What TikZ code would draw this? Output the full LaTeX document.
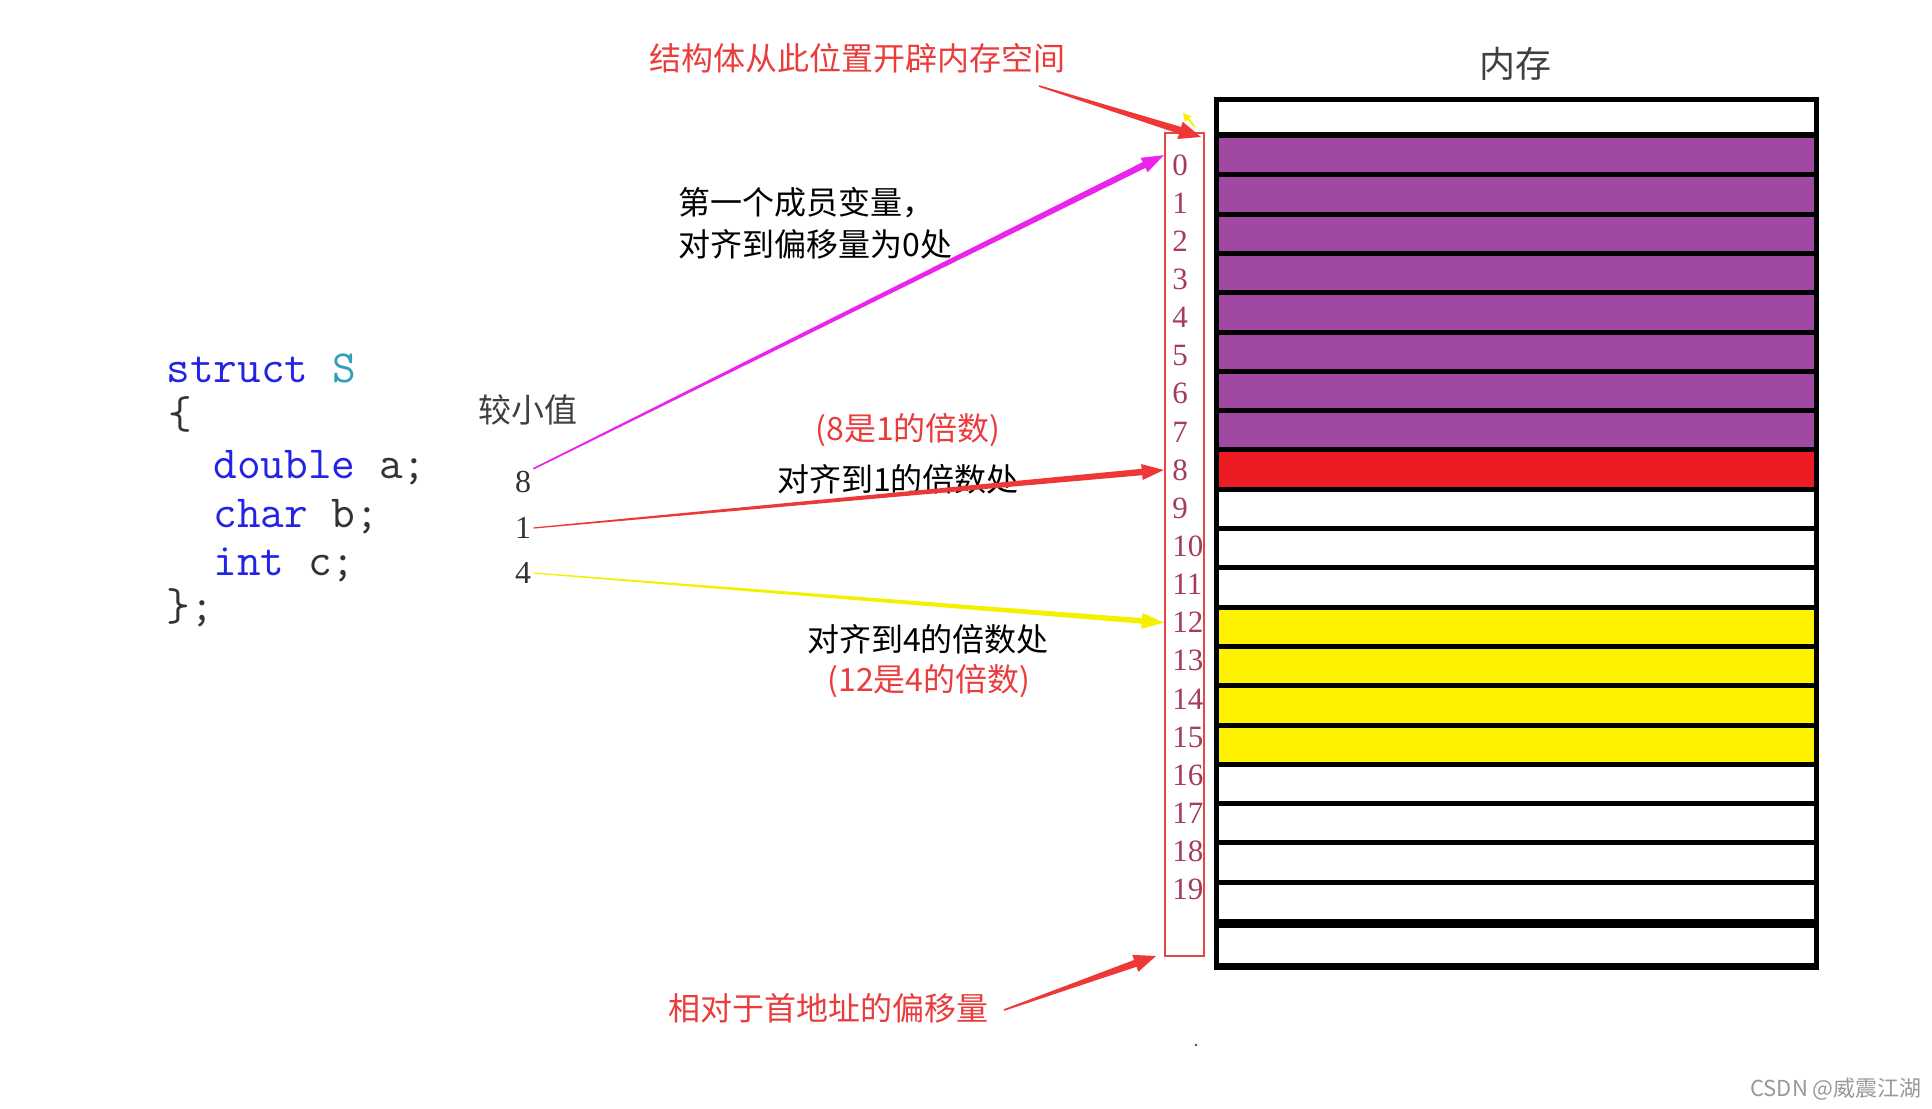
\documentclass[tikz,border=0pt]{standalone}
\usepackage{fontspec}
\setmainfont{Liberation Serif}
\newfontfamily\cjk{Noto Sans CJK SC}
\usetikzlibrary{calc, positioning}

\definecolor{cellpurple}{RGB}{160,72,162}
\definecolor{cellred}{RGB}{237,28,36}
\definecolor{cellyellow}{RGB}{255,242,0}
\definecolor{idxred}{RGB}{165,60,90}
\definecolor{boxred}{RGB}{230,70,70}
\definecolor{txtred}{RGB}{235,60,60}
\definecolor{arrmag}{RGB}{235,35,235}
\definecolor{arrred}{RGB}{238,55,55}
\definecolor{arryel}{RGB}{245,240,0}
\definecolor{kwblue}{RGB}{35,35,230}
\definecolor{typeteal}{RGB}{50,160,180}

% tapered arrow: colour, from, to, start half width, end half width, head length, head half width
\newcommand{\taperarrow}[7]{%
  \coordinate (hb) at ($(#3)!#6!(#2)$);
  \fill[#1] ($(#2)!#4!90:(#3)$) -- ($(hb)!#5!90:(#3)$) -- ($(hb)!#7!90:(#3)$) -- (#3)
    -- ($(hb)!#7!-90:(#3)$) -- ($(hb)!#5!-90:(#3)$) -- ($(#2)!#4!-90:(#3)$) -- cycle;
}

\begin{document}
\begin{tikzpicture}[x=0.5pt, y=-0.5pt,
  cell/.style={minimum width=297.5pt, minimum height=17.15pt, inner sep=0, outer sep=0},
  idx/.style={anchor=west, inner sep=0, text=idxred, font=\fontsize{15.5pt}{15.5pt}\selectfont},
  lbl/.style={inner sep=1pt, font=\cjk\fontsize{16pt}{20pt}\selectfont},
  code/.style={anchor=base west, inner sep=0, text=black!80, font=\ttfamily\fontsize{23pt}{23pt}\selectfont},
  num/.style={inner sep=1pt, text=black!80, font=\fontsize{16pt}{16pt}\selectfont}]
\fill[white] (0,0) rectangle (1932,1108);
\useasboundingbox (0,0) rectangle (1932,1108);

% code
\node[code] (cs) at (166,382) {\textcolor{kwblue}{struct} \textcolor{typeteal}{S}};
\node[code] (cbo) at (168,428) {\{};
\node[code] (cd) at (213,478) {\textcolor{kwblue}{double} a;};
\node[code] (cc) at (213,527) {\textcolor{kwblue}{char} b;};
\node[code] (ci) at (213,575) {\textcolor{kwblue}{int} c;};
\node[code] (cbc) at (166,620) {\};};

\node[lbl, text=black!75, font=\cjk\fontsize{16.5pt}{16.5pt}\selectfont] (minval) at (528,410) {较小值};
\node[num] (n8) at (523,482) {8};
\node[num] (n1) at (523,528) {1};
\node[num] (n4) at (523,573) {4};

% memory
\node[lbl, text=black!75, font=\cjk\fontsize{18pt}{18pt}\selectfont] (memlab) at (1515,64) {内存};
\fill[black] (1214,97) rectangle (1819,970);
\node[cell, fill=white, minimum height=15pt] (mtop) at (1516.5,117) {};
\node[cell, fill=cellpurple] (m0) at (1516.5,155.2) {};
\node[cell, fill=cellpurple] (m1) at (1516.5,194.5) {};
\node[cell, fill=cellpurple] (m2) at (1516.5,233.8) {};
\node[cell, fill=cellpurple] (m3) at (1516.5,273.1) {};
\node[cell, fill=cellpurple] (m4) at (1516.5,312.4) {};
\node[cell, fill=cellpurple] (m5) at (1516.5,351.7) {};
\node[cell, fill=cellpurple] (m6) at (1516.5,391.0) {};
\node[cell, fill=cellpurple] (m7) at (1516.5,430.3) {};
\node[cell, fill=cellred] (m8) at (1516.5,469.6) {};
\node[cell, fill=white] (m9) at (1516.5,508.9) {};
\node[cell, fill=white] (m10) at (1516.5,548.2) {};
\node[cell, fill=white] (m11) at (1516.5,587.5) {};
\node[cell, fill=cellyellow] (m12) at (1516.5,626.8) {};
\node[cell, fill=cellyellow] (m13) at (1516.5,666.1) {};
\node[cell, fill=cellyellow] (m14) at (1516.5,705.4) {};
\node[cell, fill=cellyellow] (m15) at (1516.5,744.7) {};
\node[cell, fill=white] (m16) at (1516.5,784.0) {};
\node[cell, fill=white] (m17) at (1516.5,823.3) {};
\node[cell, fill=white] (m18) at (1516.5,862.6) {};
\node[cell, fill=white] (m19) at (1516.5,901.9) {};
\node[cell, fill=white, minimum height=17.5pt] (mbot) at (1516.5,945.5) {};

% offsets
\node[draw=boxred, line width=1.2pt, minimum width=19.5pt, minimum height=411.5pt, inner sep=0] (ibox) at (1184.5,544.5) {};
\node[idx] (i0) at (1172,165.0) {0};
\node[idx] (i1) at (1172,203.1) {1};
\node[idx] (i2) at (1172,241.3) {2};
\node[idx] (i3) at (1172,279.4) {3};
\node[idx] (i4) at (1172,317.5) {4};
\node[idx] (i5) at (1172,355.7) {5};
\node[idx] (i6) at (1172,393.8) {6};
\node[idx] (i7) at (1172,431.9) {7};
\node[idx] (i8) at (1172,470.0) {8};
\node[idx] (i9) at (1172,508.2) {9};
\node[idx] (i10) at (1172,546.3) {10};
\node[idx] (i11) at (1172,584.4) {11};
\node[idx] (i12) at (1172,622.6) {12};
\node[idx] (i13) at (1172,660.7) {13};
\node[idx] (i14) at (1172,698.8) {14};
\node[idx] (i15) at (1172,737.0) {15};
\node[idx] (i16) at (1172,775.1) {16};
\node[idx] (i17) at (1172,813.2) {17};
\node[idx] (i18) at (1172,851.3) {18};
\node[idx] (i19) at (1172,889.5) {19};

% notes
\node[lbl, text=txtred] (start) at (857,58) {结构体从此位置开辟内存空间};
\node[lbl, anchor=west] (memb1) at (676,203) {第一个成员变量，};
\node[lbl, anchor=west] (memb2) at (676,244) {对齐到偏移量为0处};
\node[lbl, text=txtred] (note8) at (908,430) {(8是1的倍数)};
\node[lbl] (align8) at (898,479) {对齐到1的倍数处};
\node[lbl] (align4) at (928,639) {对齐到4的倍数处};
\node[lbl, text=txtred] (note12) at (929,681) {(12是4的倍数)};
\node[lbl, text=txtred] (offs) at (828,1008) {相对于首地址的偏移量};

% arrows
\coordinate (t0) at (ibox.west |- m0);
\coordinate (t8) at (ibox.west |- i8);
\coordinate (t12) at (ibox.west |- i12);
\coordinate (ts) at (1039,86);
\coordinate (te) at (1201,137);
\coordinate (bs) at (1004,1010);
\coordinate (be) at (1156,956);
\coordinate (ys) at (1195,127);
\coordinate (ye) at (1183,113);
\taperarrow{arrmag}{n8.north east}{t0}{0.4pt}{1.6pt}{11pt}{4pt}
\taperarrow{arrred}{n1.east}{t8}{0.3pt}{1.6pt}{11pt}{4pt}
\taperarrow{arryel}{n4.east}{t12}{0.3pt}{1.4pt}{11pt}{4pt}
\taperarrow{arrred}{ts}{te}{0.4pt}{1.8pt}{11pt}{4.5pt}
\taperarrow{arrred}{bs}{be}{0.4pt}{1.8pt}{11pt}{4.5pt}
\taperarrow{arryel}{ys}{ye}{0.4pt}{0.5pt}{4pt}{2.2pt}

\fill[black!70] (1196,1045) circle[radius=0.7pt];
\node[anchor=east, inner sep=0, text=black!40, font=\cjk\fontsize{11pt}{11pt}\selectfont] (wm) at (1922,1089) {CSDN @威震江湖};
\end{tikzpicture}
\end{document}
